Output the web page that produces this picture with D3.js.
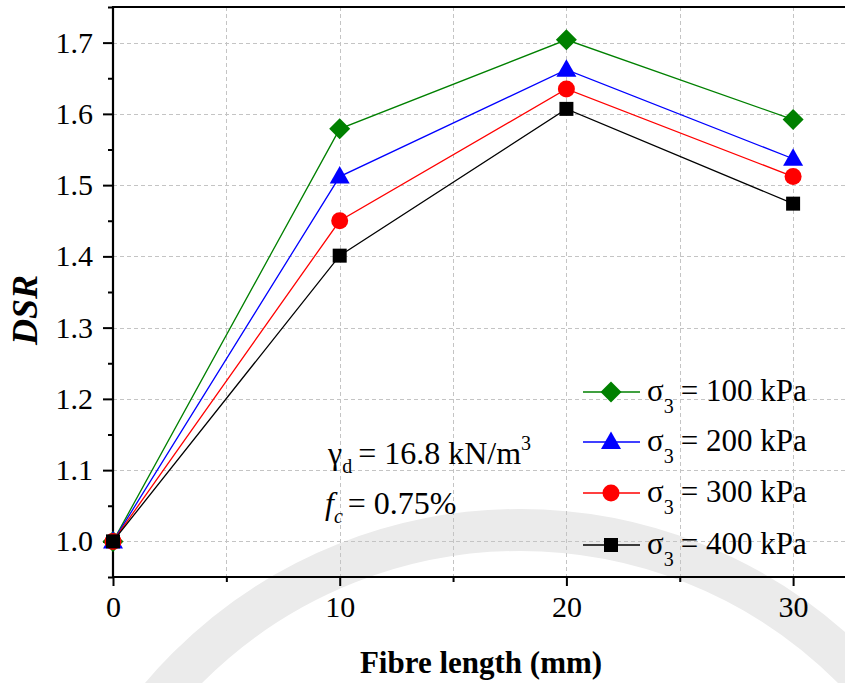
<!DOCTYPE html>
<html>
<head>
<meta charset="utf-8">
<script src="https://cdn.jsdelivr.net/npm/d3@7"></script>
<style>
  html, body { margin: 0; padding: 0; background: #fff; }
  svg { display: block; }
  svg text { font-family: "Liberation Serif", Tinos, "Times New Roman", Times, "DejaVu Serif", serif; }
</style>
</head>
<body>
<svg id="chart" width="845" height="683"></svg>
<script>
// Fibre length (mm) on the x axis
const fibreLength = [0, 10, 20, 30];

// DSR for each confining pressure
const dsr100 = [1.00, 1.579, 1.704, 1.592];
const dsr200 = [1.00, 1.512, 1.662, 1.537];
const dsr300 = [1.00, 1.450, 1.635, 1.512];
const dsr400 = [1.00, 1.401, 1.607, 1.474];

const seriesLabels = ["100 kPa", "200 kPa", "300 kPa", "400 kPa"];
const seriesColors = ["#008000", "#0000ff", "#ff0000", "#000000"];
const seriesShapes = ["diamond", "triangle", "circle", "square"];

const xMajorTicks = [0, 10, 20, 30];
const xMinorTicks = [5, 15, 25];
const yMajorTicks = [1.0, 1.1, 1.2, 1.3, 1.4, 1.5, 1.6, 1.7];
const yMinorTicks = [0.95, 1.05, 1.15, 1.25, 1.35, 1.45, 1.55, 1.65, 1.75];

const series = [dsr100, dsr200, dsr300, dsr400].map((vals, i) => ({
  label: seriesLabels[i],
  color: seriesColors[i],
  shape: seriesShapes[i],
  points: fibreLength.map((x, j) => ({ x, y: vals[j] }))
}));

const SERIF = '"Liberation Serif", Tinos, "Times New Roman", Times, "DejaVu Serif", serif';
const svg = d3.select("#chart");
const W = 845, H = 683;
const mLeft = 113, mTop = 7, mBottom = 577;

const x = d3.scaleLinear().domain([0, 32.5]).range([mLeft, mLeft + 32.5 * 22.67]);
const y = d3.scaleLinear().domain([0.95, 1.75]).range([mBottom, mTop]);

// faint circular emblem in the background
const bg = svg.append("g");
bg.append("circle")
  .attr("cx", 520).attr("cy", 1000).attr("r", 470)
  .attr("fill", "none").attr("stroke", "#ebebeb").attr("stroke-width", 42);

// gridlines
const grid = svg.append("g")
  .attr("stroke", "#c4c4c4").attr("stroke-width", 1).attr("stroke-dasharray", "4,3");
grid.selectAll("line.gx")
  .data([5, 10, 15, 20, 25, 30])
  .join("line")
  .attr("class", "gx")
  .attr("x1", d => Math.round(x(d)) + 0.5).attr("x2", d => Math.round(x(d)) + 0.5)
  .attr("y1", mTop).attr("y2", mBottom);
grid.selectAll("line.gy")
  .data(yMajorTicks)
  .join("line")
  .attr("class", "gy")
  .attr("y1", d => Math.round(y(d)) + 0.5).attr("y2", d => Math.round(y(d)) + 0.5)
  .attr("x1", mLeft).attr("x2", W);

// axes
const fmtY = d3.format(".1f");
const yAxis = d3.axisLeft(y).tickValues(yMajorTicks).tickFormat(fmtY).tickSize(10).tickPadding(10);
const yMinor = d3.axisLeft(y).tickValues(yMinorTicks).tickFormat("").tickSize(5);
const xAxis = d3.axisBottom(x).tickValues(xMajorTicks).tickFormat(d3.format("d")).tickSize(9).tickPadding(10);
const xMinor = d3.axisBottom(x).tickValues(xMinorTicks).tickFormat("").tickSize(5);

function styleAxis(g) {
  g.attr("font-family", SERIF).attr("font-size", 30);
  g.select(".domain").remove();
  g.selectAll(".tick line").attr("stroke", "#000").attr("stroke-width", 2);
  g.selectAll(".tick text").attr("fill", "#000");
}

svg.append("g").call(yAxis).attr("transform", `translate(${mLeft},0)`).call(styleAxis);
svg.append("g").call(yMinor).attr("transform", `translate(${mLeft},0)`).call(styleAxis);
svg.append("g").call(xAxis).attr("transform", `translate(0,${mBottom})`).call(styleAxis);
svg.append("g").call(xMinor).attr("transform", `translate(0,${mBottom})`).call(styleAxis);

// frame lines: left axis, bottom axis, top border
svg.append("line").attr("x1", mLeft).attr("x2", mLeft).attr("y1", mTop - 1).attr("y2", mBottom + 1)
  .attr("stroke", "#000").attr("stroke-width", 2.2);
svg.append("line").attr("x1", mLeft - 1).attr("x2", W).attr("y1", mBottom).attr("y2", mBottom)
  .attr("stroke", "#000").attr("stroke-width", 2.2);
svg.append("line").attr("x1", mLeft - 1).attr("x2", W).attr("y1", mTop).attr("y2", mTop)
  .attr("stroke", "#000").attr("stroke-width", 2.2);

// marker paths
function markerPath(shape) {
  switch (shape) {
    case "diamond": return "M0,-10.5L10.5,0L0,10.5L-10.5,0Z";
    case "triangle": return "M0,-10.5L10,7L-10,7Z";
    case "circle": return d3.symbol(d3.symbolCircle, Math.PI * 8.5 * 8.5)();
    case "square": return "M-7,-7H7V7H-7Z";
  }
}

const line = d3.line().x(d => x(d.x)).y(d => y(d.y));

const plot = svg.append("g");
series.forEach(s => {
  const g = plot.append("g");
  g.append("path")
    .attr("d", line(s.points))
    .attr("fill", "none").attr("stroke", s.color).attr("stroke-width", 1.3);
  g.selectAll("path.m")
    .data(s.points)
    .join("path")
    .attr("class", "m")
    .attr("transform", d => `translate(${x(d.x)},${y(d.y)})`)
    .attr("d", markerPath(s.shape))
    .attr("fill", s.color);
});

// legend
const legend = svg.append("g");
const legY = [392, 442, 493, 545];
series.forEach((s, i) => {
  const g = legend.append("g").attr("transform", `translate(0,${legY[i]})`);
  g.append("line").attr("x1", 583).attr("x2", 640).attr("y1", 0).attr("y2", 0)
    .attr("stroke", s.color).attr("stroke-width", 1.3);
  g.append("path").attr("transform", "translate(611,0)").attr("d", markerPath(s.shape)).attr("fill", s.color);
  const t = g.append("text").attr("x", 647).attr("y", 9)
    .attr("font-family", SERIF).attr("font-size", 31).attr("fill", "#000");
  t.append("tspan").text("σ");
  t.append("tspan").attr("dy", 12).attr("font-size", 20).text("3");
  t.append("tspan").attr("dy", -12).attr("dx", 7).text("= " + s.label);
});

// annotation
const ann = svg.append("g").attr("fill", "#000").attr("font-family", SERIF);
const a1 = ann.append("text").attr("x", 328).attr("y", 464).attr("font-size", 32);
a1.append("tspan").text("γ");
a1.append("tspan").attr("dy", 9).attr("font-size", 20).text("d");
a1.append("tspan").attr("dy", -9).attr("dx", 6).text("= 16.8 kN/m");
a1.append("tspan").attr("dy", -14).attr("font-size", 20).text("3");
const a2 = ann.append("text").attr("x", 325).attr("y", 514).attr("font-size", 32);
a2.append("tspan").attr("font-style", "italic").text("f");
a2.append("tspan").attr("dy", 9).attr("font-size", 20).attr("font-style", "italic").text("c");
a2.append("tspan").attr("dy", -9).attr("dx", 5).text("= 0.75%");

// axis titles
svg.append("text")
  .attr("x", 481).attr("y", 673)
  .attr("text-anchor", "middle")
  .attr("font-family", SERIF).attr("font-size", 31).attr("font-weight", "bold")
  .text("Fibre length (mm)");
svg.append("text")
  .attr("transform", "translate(37,310) rotate(-90)")
  .attr("text-anchor", "middle")
  .attr("font-family", SERIF).attr("font-size", 36).attr("font-weight", "bold").attr("font-style", "italic")
  .text("DSR");
</script>
</body>
</html>
